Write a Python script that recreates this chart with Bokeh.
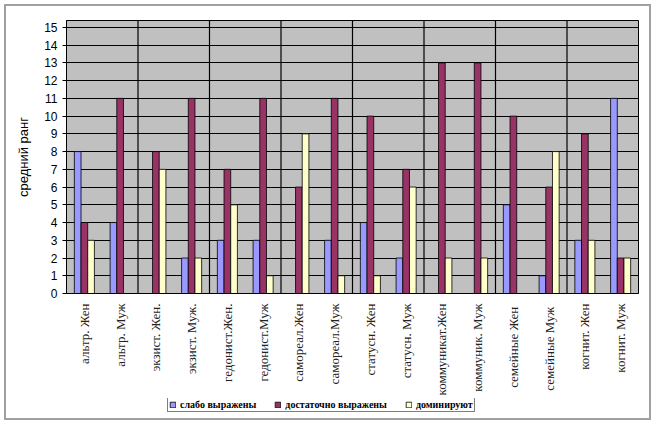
import math
from bokeh.plotting import figure
from bokeh.layouts import column
from bokeh.models import (ColumnDataSource, FactorRange, Range1d, FixedTicker,
                          Legend, LegendItem, Span)
from bokeh.transform import dodge
from bokeh.embed import file_html
from bokeh.resources import INLINE

categories = ["альтр. Жен", "альтр. Муж", "экзист. Жен.", "экзист. Муж.",
              "гедонист.Жен.", "гедонист.Муж", "самореал.Жен", "самореал.Муж",
              "статусн. Жен", "статусн. Муж", "коммуникат.Жен", "коммуник. Муж",
              "семейные  Жен", "семейные  Муж", "когнит. Жен", "когнит. Муж"]
weak = [8, 4, 0, 2, 3, 3, 0, 3, 4, 2, 0, 0, 5, 1, 3, 11]
enough = [4, 11, 8, 11, 7, 11, 6, 11, 10, 7, 13, 13, 10, 6, 9, 2]
dominant = [3, 0, 7, 2, 5, 1, 9, 1, 1, 6, 2, 2, 0, 8, 3, 2]
series_names = ["слабо выражены", "достаточно выражены", "доминируют"]
y_ticks = list(range(0, 16))
pair_bounds = [2, 4, 6, 8, 10, 12, 14]

colors = ["#9999FF", "#993366", "#FFFFCC"]
fields = ["weak", "enough", "dominant"]

source = ColumnDataSource(dict(cat=categories, weak=weak, enough=enough, dominant=dominant))

p = figure(x_range=FactorRange(*categories), y_range=Range1d(0, 15.39),
           width=643, height=392, output_backend="svg", toolbar_location=None,
           min_border_left=60, min_border_right=11, min_border_top=14,
           min_border_bottom=104)

p.background_fill_color = "#C0C0C0"
p.border_fill_color = "white"
p.outline_line_color = "black"
p.outline_line_width = 1

bw = 0.187
offsets = [-bw, 0.0, bw]
for f, c, off in zip(fields, colors, offsets):
    p.vbar(x=dodge("cat", off, range=p.x_range), top=f, width=bw, source=source,
           fill_color=c, line_color="black", line_width=0.8)

# grid
p.ygrid.ticker = FixedTicker(ticks=y_ticks)
p.ygrid.grid_line_color = "black"
p.ygrid.grid_line_width = 1
p.xgrid.grid_line_color = None
for b in pair_bounds:
    p.add_layout(Span(location=b, dimension="height", line_color="black", line_width=1.2))

# y axis
p.yaxis.ticker = FixedTicker(ticks=y_ticks)
p.yaxis.axis_label = "средний ранг"
p.yaxis.axis_label_text_font = "Liberation Sans"
p.yaxis.axis_label_text_font_size = "13px"
p.yaxis.axis_label_text_font_style = "normal"
p.yaxis.axis_label_text_color = "black"
p.yaxis.axis_label_standoff = 10
p.yaxis.major_label_text_font = "Liberation Sans"
p.yaxis.major_label_text_font_size = "12px"
p.yaxis.major_label_text_color = "black"
p.yaxis.major_tick_in = 0
p.yaxis.major_tick_out = 4
p.yaxis.minor_tick_line_color = None
p.yaxis.axis_line_color = "black"
p.yaxis.major_tick_line_color = "black"

# x axis
p.xaxis.major_label_orientation = math.pi / 2
p.xaxis.major_label_text_font = "Liberation Serif"
p.xaxis.major_label_text_font_size = "13px"
p.xaxis.major_label_text_color = "#222222"
p.xaxis.major_label_standoff = 4
p.xaxis.major_tick_line_color = None
p.xaxis.axis_line_color = "black"

# legend strip (its bars lie outside the visible range; only the legend shows)
lg = figure(width=643, height=20, output_backend="svg", toolbar_location=None,
            x_range=Range1d(0, 1), y_range=Range1d(-2, -1),
            x_axis_type=None, y_axis_type=None,
            min_border=0)
lg.outline_line_color = None
lg.grid.visible = False
lg.background_fill_color = "white"
lg.border_fill_color = "white"
items = []
for n, f, c in zip(series_names, fields, colors):
    r = lg.vbar(x=0.5, top=f, width=0.1, source=source,
                fill_color=c, line_color="black", line_width=0.8)
    items.append(LegendItem(label=n, renderers=[r]))
legend = Legend(items=items, orientation="horizontal", location=(101, 6))
legend.label_text_font = "Liberation Serif"
legend.label_text_font_style = "bold"
legend.label_text_font_size = "10px"
legend.label_text_color = "black"
legend.glyph_width = 7
legend.glyph_height = 7
legend.label_standoff = 4
legend.spacing = 18
legend.padding = 1
legend.margin = 0
legend.label_height = 8
legend.border_line_color = "black"
legend.border_line_width = 1
legend.background_fill_color = "white"
legend.background_fill_alpha = 1
lg.add_layout(legend, "center")

layout = column(p, lg, spacing=0)
layout.margin = (6, 6, 6, 6)
layout.styles = {"outline": "2px solid #a0a0a0", "background-color": "white"}

open("out.html", "w").write(file_html(layout, INLINE))
